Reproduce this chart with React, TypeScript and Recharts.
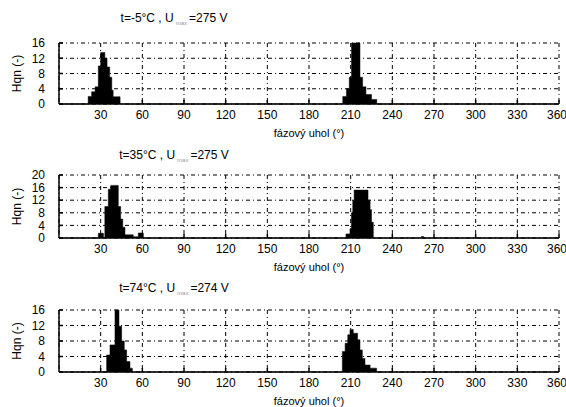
import { Area, AreaChart, CartesianGrid, XAxis, YAxis } from 'recharts';

// fázový uhol (°) a Hqn (-) pre tri merania
const uhol1 = [0, 21, 23.5, 26, 28.3, 30, 33, 34.6, 36.5, 38, 39, 44, 204.3, 207, 209, 210.6, 216.7, 218.6, 221, 225, 228.8, 360];
const hqn1 = [0, 2, 3.2, 4.5, 10, 13.5, 12, 9.7, 7, 3.6, 1.9, 0, 2, 4, 7, 16, 7, 4.5, 2.5, 1.2, 0, 0];

const uhol2 = [0, 28.3, 32, 33, 35.5, 37.2, 42.7, 44.4, 45.9, 47.5, 53.5, 57.1, 60.7, 206.6, 209.5, 210.5, 211.5, 212.5, 222.5, 224, 225, 226.3, 261, 262.5, 360];
const hqn2 = [0, 1.5, 0, 10, 15.5, 16.7, 10, 6, 3.4, 1, 0.4, 1.6, 0, 1.3, 3, 8, 12, 15.2, 12, 9, 5, 0, 0.5, 0, 0];

const uhol3 = [0, 34.3, 36.7, 40.3, 43.2, 45.1, 47, 48.7, 51.1, 52.8, 204, 206, 207.9, 209.5, 211.9, 215, 216.7, 218.4, 220.3, 224, 228.7, 360];
const hqn3 = [0, 4.4, 7, 16, 11.8, 8, 5.7, 2.7, 1, 0, 5.3, 7.4, 9.6, 11, 10, 8.3, 5.7, 3.5, 1.8, 1, 0, 0];

const xTicks = [30, 60, 90, 120, 150, 180, 210, 240, 270, 300, 330, 360];
const yTicks16 = [0, 4, 8, 12, 16];
const yTicks20 = [0, 4, 8, 12, 16, 20];

const titles = [
    { t: 't=-5°C , U', sub: 'max', rest: '=275 V' },
    { t: 't=35°C , U', sub: 'max', rest: '=275 V' },
    { t: 't=74°C , U', sub: 'max', rest: '=274 V' },
];

const font = '"Liberation Sans", Arial, sans-serif';
const tickStyle = { fill: '#000', fontSize: 12, fontFamily: font };

type PanelProps = {
    uhol: number[];
    hqn: number[];
    yMax: number;
    yTicks: number[];
    top: number;
    plotH: number;
};

function Panel({ uhol, hqn, yMax, yTicks, top, plotH }: PanelProps) {
    const data = uhol.map((a, i) => ({ a, v: hqn[i] }));
    return (
        <div style={{ position: 'absolute', left: 0, top }}>
            <AreaChart width={566} height={43 + plotH + 40} data={data} margin={{ top: 43, right: 7, bottom: 0, left: 0 }}>
                <CartesianGrid stroke="#000" strokeDasharray="4 3 1 3" strokeWidth={1} />
                <XAxis
                    dataKey="a"
                    type="number"
                    domain={[0, 360]}
                    ticks={xTicks}
                    height={40}
                    tickSize={-4}
                    tickMargin={10}
                    stroke="#000"
                    strokeWidth={1.5}
                    tick={tickStyle}
                    label={{ value: 'fázový uhol (°)', position: 'insideBottom', offset: 7, style: { fill: '#000', fontSize: 11, fontFamily: font } }}
                />
                <XAxis
                    xAxisId="top"
                    orientation="top"
                    dataKey="a"
                    type="number"
                    domain={[0, 360]}
                    ticks={xTicks}
                    height={0}
                    tickSize={-4}
                    stroke="#000"
                    strokeWidth={1.5}
                    tick={{ fill: 'transparent', fontSize: 1 }}
                />
                <YAxis
                    domain={[0, yMax]}
                    ticks={yTicks}
                    width={59}
                    tickSize={-4}
                    tickMargin={18}
                    stroke="#000"
                    strokeWidth={1.5}
                    tick={tickStyle}
                    interval={0}
                    label={{ value: 'Hqn (-)', angle: -90, position: 'insideLeft', offset: 17, style: { textAnchor: 'middle', fill: '#000', fontSize: 12, fontFamily: font } }}
                />
                <YAxis
                    yAxisId="r"
                    orientation="right"
                    domain={[0, yMax]}
                    ticks={yTicks}
                    width={0}
                    tickSize={-4}
                    stroke="#000"
                    strokeWidth={1.5}
                    tick={{ fill: 'transparent', fontSize: 1 }}
                />
                <Area
                    type="stepAfter"
                    dataKey="v"
                    fill="#000"
                    fillOpacity={1}
                    stroke="#000"
                    strokeWidth={0.5}
                    dot={false}
                    activeDot={false}
                    isAnimationActive={false}
                />
            </AreaChart>
        </div>
    );
}

function Title({ y, t, sub, rest }: { y: number; t: string; sub: string; rest: string }) {
    return (
        <div style={{ position: 'absolute', left: 24, width: 300, top: y - 7, textAlign: 'center', fontFamily: font, fontSize: 12, lineHeight: '14px', color: '#000' }}>
            {t}
            <span style={{ fontSize: 6, color: '#999', verticalAlign: -3, margin: '0 2px' }}>{sub}</span>
            {rest}
        </div>
    );
}

export default function App() {
    return (
        <div style={{ position: 'absolute', left: 0, top: 0, width: 566, height: 407, background: '#fff' }}>
            <Panel uhol={uhol1} hqn={hqn1} yMax={16} yTicks={yTicks16} top={0} plotH={61} />
            <Panel uhol={uhol2} hqn={hqn2} yMax={20} yTicks={yTicks20} top={132} plotH={63} />
            <Panel uhol={uhol3} hqn={hqn3} yMax={16} yTicks={yTicks16} top={267} plotH={62} />
            <Title y={18} {...titles[0]} />
            <Title y={155} {...titles[1]} />
            <Title y={288} {...titles[2]} />
        </div>
    );
}
